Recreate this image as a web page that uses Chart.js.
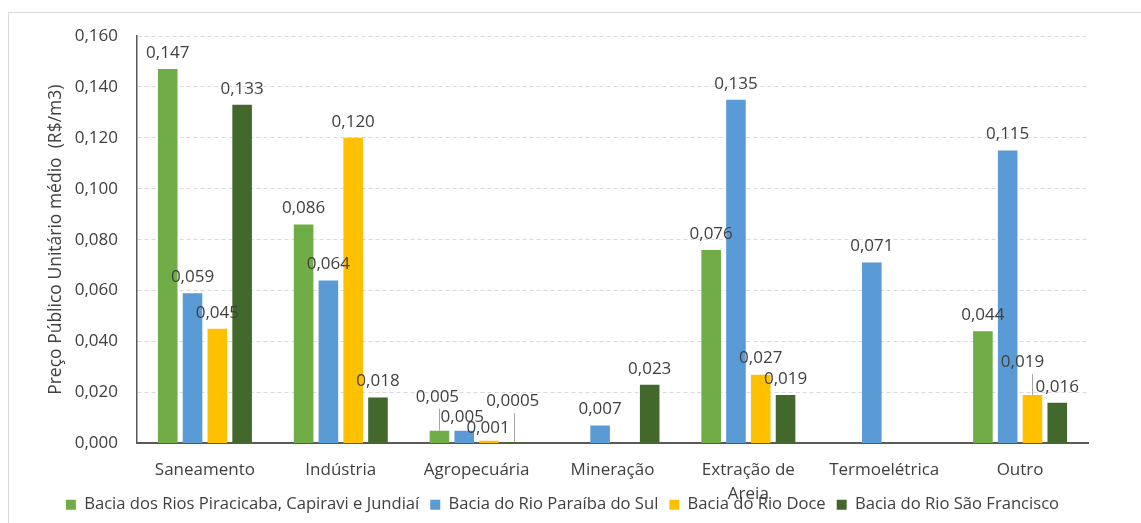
<!DOCTYPE html>
<html lang="pt-BR">
<head>
<meta charset="utf-8">
<script src="https://cdn.jsdelivr.net/npm/chart.js@4.4.1/dist/chart.umd.min.js"></script>
<style>
    html, body { margin: 0; padding: 0; background: #fff; overflow: hidden; }
    #frame { position: absolute; left: 8px; top: 12px; width: 1200px; height: 600px; border: 1px solid #d9d9d9; }
    #wrap { position: absolute; left: 0; top: 0; width: 1141px; height: 523px; }
</style>
</head>
<body>
<div id="frame"></div>
<div id="wrap"><canvas id="precoChart"></canvas></div>
<script>
const categories = ['Saneamento', 'Indústria', 'Agropecuária', 'Mineração', ['Extração de', 'Areia'], 'Termoelétrica', 'Outro'];

const seriesNames = [
    'Bacia dos Rios Piracicaba, Capiravi e Jundiaí',
    'Bacia do Rio Paraíba do Sul',
    'Bacia do Rio Doce',
    'Bacia do Rio São Francisco'
];

const piracicaba = [0.147, 0.086, 0.005, null, 0.076, null, 0.044];
const paraiba = [0.059, 0.064, 0.005, 0.007, 0.135, 0.071, 0.115];
const doce = [0.045, 0.120, 0.001, null, 0.027, null, 0.019];
const saoFrancisco = [0.133, 0.018, 0.0005, 0.023, 0.019, null, 0.016];

const yMin = 0;
const yMax = 0.16;
const yStep = 0.02;

const seriesColors = ['#70AD47', '#5B9BD5', '#FFC000', '#43682B'];

// labels moved off their bars by hand, key is "dataset:index"
const labelNudges = {
    '0:2': { dx: -2, dy: -18, leader: true },
    '1:2': { dx: -2, dy: 2 },
    '2:2': { dx: -1, dy: 3 },
    '3:2': { dx: -1, dy: -25, leader: true },
    '2:6': { dx: -10, dy: -17, leader: true }
};

const FONT = '"Open Sans", "Noto Sans", sans-serif';
const TEXT = '#404040';

function formatValue(v) {
    return v.toFixed(v < 0.001 ? 4 : 3).replace('.', ',');
}

const barLabels = {
    id: 'barLabels',
    afterDatasetsDraw(chart) {
        const ctx = chart.ctx;
        ctx.save();
        ctx.font = `17px ${FONT}`;
        ctx.textAlign = 'center';
        ctx.textBaseline = 'middle';
        chart.data.datasets.forEach((ds, i) => {
            chart.getDatasetMeta(i).data.forEach((bar, j) => {
                const v = ds.data[j];
                if (v === null || v === undefined) return;
                const nudge = labelNudges[i + ':' + j] || { dx: 0, dy: 0 };
                const x = bar.x + nudge.dx;
                const y = bar.y - 16 + nudge.dy;
                if (nudge.leader) {
                    const lx = Math.round(bar.x) + 0.5;
                    ctx.strokeStyle = '#a6a6a6';
                    ctx.lineWidth = 1;
                    ctx.beginPath();
                    ctx.moveTo(lx, y + 12);
                    ctx.lineTo(lx, bar.y);
                    ctx.stroke();
                }
                ctx.fillStyle = TEXT;
                ctx.fillText(formatValue(v), x, y);
            });
        });
        ctx.restore();
    }
};

function render() {
    const ctx = document.getElementById('precoChart').getContext('2d');
    const values = [piracicaba, paraiba, doce, saoFrancisco];

    new Chart(ctx, {
        type: 'bar',
        data: {
            labels: categories,
            datasets: values.map((data, i) => ({
                label: seriesNames[i],
                data: data,
                backgroundColor: seriesColors[i],
                borderWidth: 0,
                categoryPercentage: 0.73,
                barPercentage: 0.79
            }))
        },
        options: {
            responsive: true,
            maintainAspectRatio: false,
            animation: false,
            layout: {
                padding: { left: 0, right: 16, top: 36, bottom: 0 }
            },
            scales: {
                x: {
                    grid: { display: false },
                    border: { display: true, color: '#595959', width: 2 },
                    ticks: {
                        color: TEXT,
                        font: { family: FONT, size: 17, lineHeight: 1.4 },
                        padding: 7,
                        maxRotation: 0,
                        autoSkip: false
                    },
                    afterFit(scale) {
                        scale.height = 42;
                        // let the wrapped second line run into the legend
                        scale._computeLabelArea = () => null;
                    }
                },
                y: {
                    min: yMin,
                    max: yMax,
                    grid: { color: '#d9d9d9', drawTicks: false },
                    border: { display: true, color: '#595959', width: 1.5, dash: [4, 3] },
                    ticks: {
                        stepSize: yStep,
                        color: TEXT,
                        font: { family: FONT, size: 17 },
                        padding: 19,
                        callback: value => value.toFixed(3).replace('.', ',')
                    },
                    title: {
                        display: true,
                        text: 'Preço Público Unitário médio  (R$/m3)',
                        color: TEXT,
                        font: { family: FONT, size: 17.5 },
                        padding: { top: 46, bottom: 0 }
                    },
                    afterFit(scale) { scale.width = 137; }
                },
                spacer: {
                    type: 'linear',
                    position: 'right',
                    display: true,
                    grid: { display: false, drawTicks: false },
                    border: { display: false },
                    ticks: { display: false },
                    afterFit(scale) { scale.width = 37; }
                }
            },
            plugins: {
                legend: {
                    position: 'bottom',
                    labels: {
                        boxWidth: 10,
                        boxHeight: 10,
                        padding: 11,
                        color: TEXT,
                        font: { family: FONT, size: 16.6 }
                    }
                },
                tooltip: { enabled: false }
            }
        },
        plugins: [barLabels]
    });
}

document.fonts.load(`17px ${FONT}`).then(render, render);
</script>
</body>
</html>
